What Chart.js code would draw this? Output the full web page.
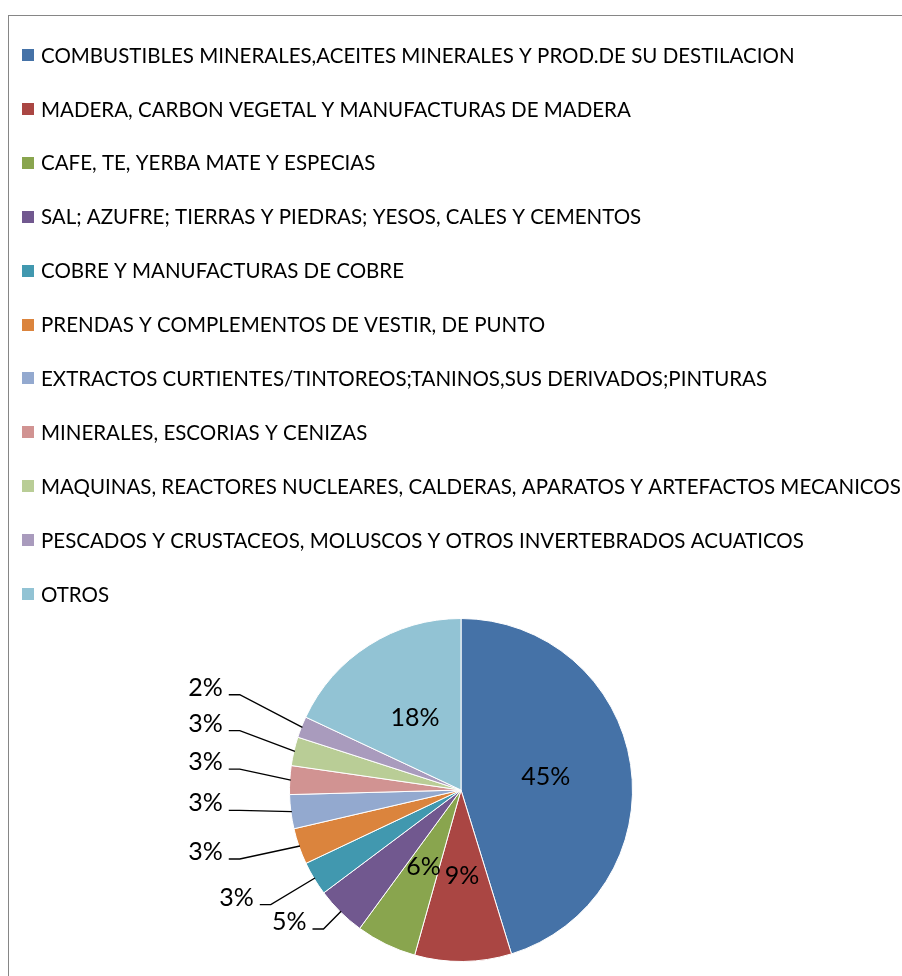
<!DOCTYPE html>
<html>
<head>
<meta charset="utf-8">
<script src="https://cdn.jsdelivr.net/npm/chart.js@4.4.1/dist/chart.umd.min.js"></script>
<style>
html,body{margin:0;padding:0;background:#fff;overflow:hidden}
#wrap{position:relative;width:902px;height:976px}
canvas{display:block}
</style>
</head>
<body>
<div id="wrap"><canvas id="c" width="902" height="976"></canvas></div>
<script>
// ---- data ----
const categories = [
  "COMBUSTIBLES MINERALES,ACEITES MINERALES Y PROD.DE SU DESTILACION",
  "MADERA, CARBON VEGETAL Y MANUFACTURAS DE MADERA",
  "CAFE, TE, YERBA MATE Y ESPECIAS",
  "SAL; AZUFRE; TIERRAS Y PIEDRAS; YESOS, CALES Y CEMENTOS",
  "COBRE Y MANUFACTURAS DE COBRE",
  "PRENDAS Y COMPLEMENTOS DE VESTIR, DE PUNTO",
  "EXTRACTOS CURTIENTES/TINTOREOS;TANINOS,SUS DERIVADOS;PINTURAS",
  "MINERALES, ESCORIAS Y CENIZAS",
  "MAQUINAS, REACTORES NUCLEARES, CALDERAS, APARATOS Y ARTEFACTOS MECANICOS",
  "PESCADOS Y CRUSTACEOS, MOLUSCOS Y OTROS INVERTEBRADOS ACUATICOS",
  "OTROS"
];
const shares = [45.2, 9.1, 5.7, 4.7, 3.2, 3.4, 3.2, 2.7, 2.7, 2.0, 18.0];
const sliceColors = [
  "#4572A7", "#AA4643", "#89A54E", "#71588F", "#4198AF", "#DB843D",
  "#93A9CF", "#D19392", "#B9CD96", "#A99BBD", "#92C3D4"
];

// ---- style ----
const FONT = "Lato, 'Open Sans', sans-serif";
const LEGEND_FONT_PX = 20.5;
const LABEL_FONT_PX = 25;

const framePlugin = {
  id: 'frame',
  beforeDraw(chart) {
    const ctx = chart.ctx;
    ctx.save();
    ctx.fillStyle = '#fff';
    ctx.fillRect(0, 0, chart.width, chart.height);
    ctx.strokeStyle = '#868686';
    ctx.lineWidth = 1;
    ctx.strokeRect(8.5, 15.5, chart.width + 20, chart.height + 20);
    ctx.restore();
  }
};

const legendPlugin = {
  id: 'vlegend',
  afterDraw(chart) {
    const ctx = chart.ctx;
    const ds = chart.data.datasets[0];
    ctx.save();
    ctx.font = LEGEND_FONT_PX + 'px ' + FONT;
    ctx.textBaseline = 'middle';
    ctx.textAlign = 'left';
    chart.data.labels.forEach((lab, i) => {
      const y = 55 + i * 53.9;
      ctx.fillStyle = ds.backgroundColor[i];
      ctx.fillRect(22, Math.round(y - 6), 12, 12);
      ctx.fillStyle = '#000';
      ctx.fillText(lab, 41, y + 1);
    });
    ctx.restore();
  }
};

const labelPlugin = {
  id: 'pctLabels',
  afterDatasetsDraw(chart) {
    const ctx = chart.ctx;
    const meta = chart.getDatasetMeta(0);
    const vals = chart.data.datasets[0].data;
    const total = vals.reduce((a, b) => a + b, 0);
    ctx.save();
    ctx.font = LABEL_FONT_PX + 'px ' + FONT;
    ctx.fillStyle = '#000';
    ctx.strokeStyle = '#000';
    ctx.lineWidth = 1.4;
    meta.data.forEach((arc, i) => {
      const p = arc.getProps(['x', 'y', 'startAngle', 'endAngle', 'outerRadius'], true);
      const mid = (p.startAngle + p.endAngle) / 2;
      const c = Math.cos(mid), s = Math.sin(mid);
      const R = p.outerRadius;
      const frac = vals[i] / total;
      const txt = Math.round(frac * 100) + '%';
      if (frac >= 0.055) {
        ctx.textAlign = 'center';
        ctx.textBaseline = 'middle';
        ctx.fillText(txt, p.x + c * R * 0.5, p.y + s * R * 0.5);
      } else {
        // elbow point along the slice's mid ray; nearly horizontal rays end at a common column
        const inColumn = Math.abs(c) > 0.9;
        const t = inColumn ? R * 1.29 / Math.abs(c) : R * (0.43 + 1.01 * Math.abs(c));
        const sx = p.x + c * (R - 1), sy = p.y + s * (R - 1);
        const ex = p.x + c * t, ey = p.y + s * t - (inColumn ? 8 : 0);
        const dir = c < 0 ? -1 : 1;
        const hx = ex + dir * 11;
        ctx.beginPath();
        ctx.moveTo(sx, sy);
        ctx.lineTo(ex, ey);
        ctx.lineTo(hx, ey);
        ctx.stroke();
        ctx.textAlign = dir < 0 ? 'right' : 'left';
        ctx.textBaseline = 'middle';
        ctx.fillText(txt, hx + dir * 6, ey - 7);
      }
    });
    ctx.restore();
  }
};

new Chart(document.getElementById('c'), {
  type: 'pie',
  data: {
    labels: categories,
    datasets: [{
      data: shares,
      backgroundColor: sliceColors,
      borderColor: '#ffffff',
      borderWidth: 1
    }]
  },
  options: {
    responsive: false,
    devicePixelRatio: 1,
    animation: false,
    layout: { padding: { top: 618, bottom: 14, left: 20, right: 0 } },
    plugins: {
      legend: { display: false },
      tooltip: { enabled: false }
    }
  },
  plugins: [framePlugin, legendPlugin, labelPlugin]
});
</script>
</body>
</html>
